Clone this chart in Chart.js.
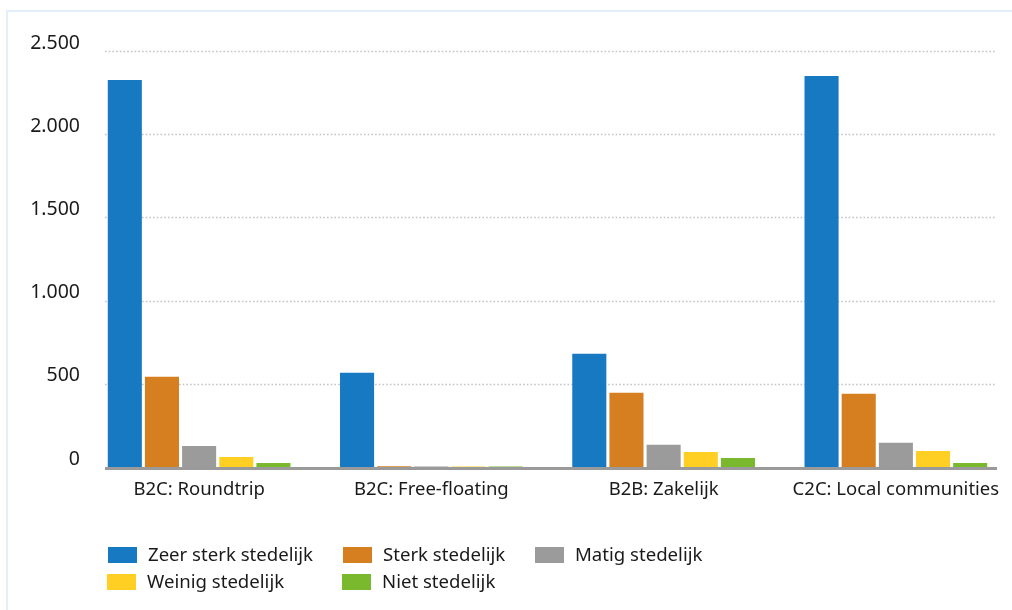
<!DOCTYPE html>
<html>
<head>
<meta charset="utf-8">
<script src="https://cdn.jsdelivr.net/npm/chart.js@4/dist/chart.umd.min.js"></script>
<style>
  html, body { margin: 0; padding: 0; background: #fff; }
  #wrap { position: relative; width: 1012px; height: 610px; overflow: hidden; }
  #frame { position: absolute; left: 6px; top: 10px; right: -4px; bottom: -4px;
           border-top: 2px solid #e3f0fb; border-left: 2px solid #e3f0fb; }
  #legend { position: absolute; left: 0; top: 0; font-family: "Noto Sans", sans-serif;
            font-size: 18.6px; color: #1a1a1a; }
  .item { position: absolute; white-space: nowrap; }
  .box { position: absolute; width: 29px; height: 16px; }
  .txt { position: absolute; line-height: 20px; }
</style>
</head>
<body>
<div id="wrap">
  <div id="frame"></div>
  <canvas id="bar-chart" width="1012" height="610"></canvas>
  <div id="legend"></div>
</div>
<script>
var categories = ["B2C: Roundtrip", "B2C: Free-floating", "B2B: Zakelijk", "C2C: Local communities"];
var seriesNames = ["Zeer sterk stedelijk", "Sterk stedelijk", "Matig stedelijk", "Weinig stedelijk", "Niet stedelijk"];
var zeerSterk = [2325, 566, 680, 2350];
var sterk = [542, 4, 446, 440];
var matig = [126, 3, 133, 145];
var weinig = [60, 3, 90, 96];
var niet = [24, 3, 54, 24];
var yTicks = [0, 500, 1000, 1500, 2000, 2500];
var colors = ["#1679c1", "#d67f20", "#9b9b9b", "#ffd023", "#7ab92e"];

var seriesValues = [zeerSterk, sterk, matig, weinig, niet];

// dotted grid + thick grey base line, only over the inner part of the plot
var gridPlugin = {
    id: "gridPlugin",
    beforeDatasetsDraw: function (chart) {
        var ctx = chart.ctx, y = chart.scales.y;
        ctx.save();
        ctx.strokeStyle = "#c4c4c4";
        ctx.lineWidth = 1.5;
        ctx.setLineDash([1.6, 2.1]);
        yTicks.forEach(function (v) {
            if (v === 0) return;
            var py = Math.round(y.getPixelForValue(v)) + 0.5;
            ctx.beginPath();
            ctx.moveTo(105, py);
            ctx.lineTo(995, py);
            ctx.stroke();
        });
        ctx.restore();
    },
    afterDatasetsDraw: function (chart) {
        var ctx = chart.ctx, y = chart.scales.y;
        var py = y.getPixelForValue(0) + 1.5;
        ctx.save();
        ctx.strokeStyle = "#9a9a9a";
        ctx.lineWidth = 3;
        ctx.beginPath();
        ctx.moveTo(105, py);
        ctx.lineTo(997, py);
        ctx.stroke();
        ctx.restore();
    }
};

var ctx1 = document.getElementById("bar-chart");

var data1 = {
    labels: categories,
    datasets: seriesNames.map(function (name, i) {
        return {
            label: name,
            data: seriesValues[i],
            backgroundColor: colors[i],
            borderWidth: 0,
            categoryPercentage: 0.8,
            barPercentage: 0.917
        };
    })
};

var options = {
    responsive: false,
    animation: false,
    layout: { padding: { top: 51, right: 0, bottom: 103, left: 0 } },
    plugins: {
        legend: { display: false },
        tooltip: { enabled: false }
    },
    scales: {
        x: {
            grid: { display: false, drawTicks: false },
            border: { display: false },
            ticks: {
                padding: 12,
                maxRotation: 0,
                autoSkip: false,
                color: "#1a1a1a",
                font: { family: "Noto Sans", size: 18.5 }
            },
            afterFit: function (s) { s.height = 40; }
        },
        y: {
            min: 0,
            max: 2500,
            grid: { display: false, drawTicks: false },
            border: { display: false },
            afterBuildTicks: function (s) {
                s.ticks = yTicks.map(function (v) { return { value: v }; });
            },
            ticks: {
                padding: 3,
                labelOffset: -8,
                color: "#1a1a1a",
                font: { family: "Noto Sans", size: 19.5 },
                callback: function (v) { return v.toLocaleString("nl-NL"); }
            },
            afterFit: function (s) { s.width = 83; }
        }
    }
};

var chart1 = new Chart(ctx1, {
    type: "bar",
    data: data1,
    options: options,
    plugins: [gridPlugin]
});

// legend in three columns, two rows
var legendPos = [[108, 547], [343, 547], [535, 547], [107, 574], [342, 574]];
var legend = document.getElementById("legend");
seriesNames.forEach(function (name, i) {
    var item = document.createElement("div");
    item.className = "item";
    item.style.left = legendPos[i][0] + "px";
    item.style.top = legendPos[i][1] + "px";
    item.innerHTML = '<span class="box" style="left:0;top:0;background:' + colors[i] + '"></span>' +
        '<span class="txt" style="left:40px;top:-3px">' + name + '</span>';
    legend.appendChild(item);
});
</script>
</body>
</html>
